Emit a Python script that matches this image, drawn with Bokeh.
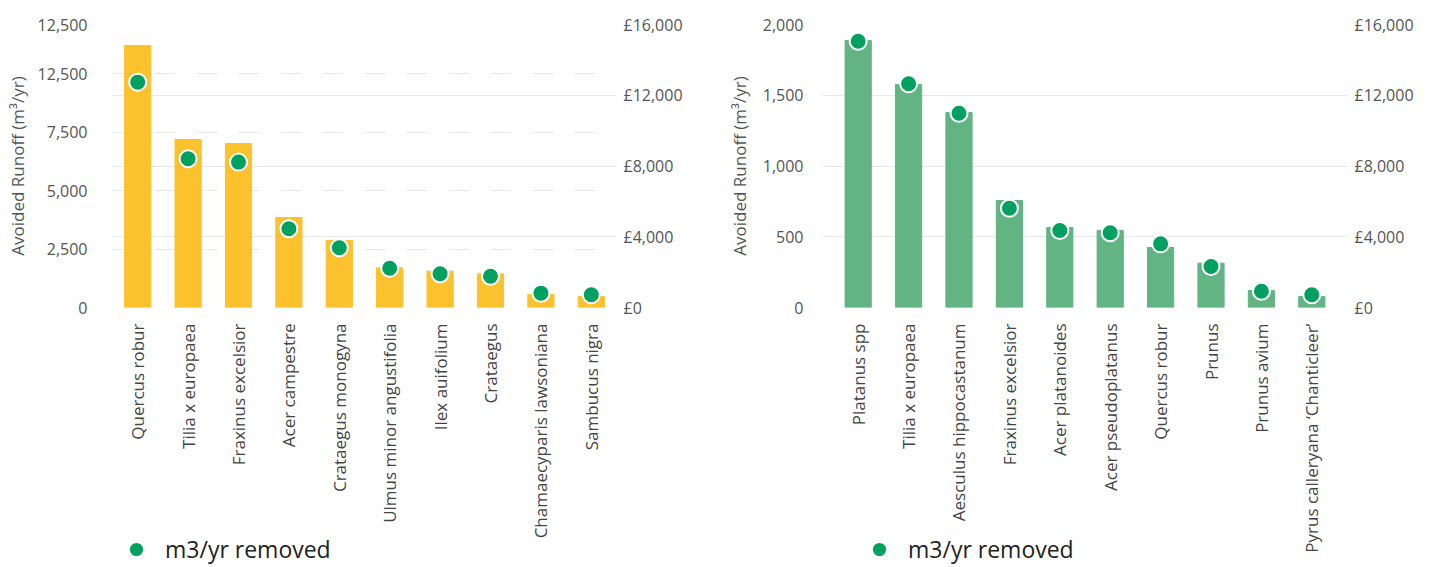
import math
from bokeh.plotting import figure
from bokeh.models import (ColumnDataSource, FactorRange, Range1d, LinearAxis, FixedTicker,
                          Grid, Legend, LegendItem)
from bokeh.layouts import row, column
from bokeh.embed import file_html
from bokeh.resources import INLINE

# ---------------- data ----------------
left_species = ["Quercus robur", "Tilia x europaea", "Fraxinus excelsior", "Acer campestre",
                "Crataegus monogyna", "Ulmus minor angustifolia", "Ilex auifolium", "Crataegus",
                "Chamaecyparis lawsoniana", "Sambucus nigra"]
left_runoff = [11210, 7190, 7020, 3850, 2870, 1700, 1555, 1440, 556, 470]
left_removed_gbp = [12740, 8410, 8220, 4450, 3375, 2220, 1905, 1770, 810, 720]
left_runoff_ticks = [0, 2500, 5000, 7500, 10000, 12115]
left_runoff_tick_labels = ["0", "2,500", "5,000", "7,500", "12,500", "12,500"]

right_species = ["Platanus spp", "Tilia x europaea", "Aesculus hippocastanum", "Fraxinus excelsior",
                 "Acer platanoides", "Acer pseudoplatanus", "Quercus robur", "Prunus",
                 "Prunus avium", "Pyrus calleryana \u2018Chanticleer\u2019"]
right_runoff = [1887, 1576, 1378, 756, 565, 544, 424, 313, 120, 78]
right_removed_gbp = [15057, 12648, 10986, 5615, 4354, 4223, 3600, 2318, 922, 718]
right_runoff_ticks = [0, 500, 1000, 1500, 2000]
right_runoff_tick_labels = ["0", "500", "1,000", "1,500", "2,000"]

gbp_ticks = [0, 4000, 8000, 12000, 16000]
gbp_tick_labels = ["\u00a30", "\u00a34,000", "\u00a38,000", "\u00a312,000", "\u00a316,000"]

y_title = "Avoided Runoff (m\u00b3/yr)"
legend_text = "m3/yr removed"

FONT = "Open Sans"
GRID = "#e8e8e8"
DOT = "#00A160"


def make_chart(species, runoff, gbp, ticks, tick_labels, bar_color, dashed_left_grid,
               fig_width, border_left, border_right, pad, label_standoff, title_standoff):
    src = ColumnDataSource(dict(cat=species, runoff=runoff, gbp=gbp))
    p = figure(width=fig_width, height=565, output_backend="svg", toolbar_location=None,
               x_range=FactorRange(factors=species, range_padding=pad,
                                   range_padding_units="absolute"),
               y_range=Range1d(0, ticks[-1]),
               min_border_left=border_left, min_border_right=border_right,
               min_border_top=24, min_border_bottom=258)
    p.outline_line_color = None
    p.background_fill_color = "white"
    p.border_fill_color = "white"
    p.extra_y_ranges = {"gbp": Range1d(0, gbp_ticks[-1])}

    # grids
    p.xgrid.visible = False
    if dashed_left_grid:
        p.ygrid.ticker = FixedTicker(ticks=ticks[:-1])
        p.ygrid.grid_line_dash = "21 21"
        p.ygrid.grid_line_color = GRID
        g2 = Grid(dimension=1, ticker=FixedTicker(ticks=gbp_ticks), y_range_name="gbp",
                  grid_line_color=GRID)
        p.add_layout(g2)
    else:
        p.ygrid.ticker = FixedTicker(ticks=ticks)
        p.ygrid.grid_line_color = GRID

    p.vbar(x="cat", top="runoff", width=0.52, source=src, color=bar_color)
    p.scatter(x="cat", y="gbp", source=src, y_range_name="gbp", size=17,
              fill_color=DOT, line_color="white", line_width=2)

    # left axis
    ya = p.yaxis[0]
    ya.ticker = FixedTicker(ticks=ticks)
    ya.major_label_overrides = dict(zip(ticks, tick_labels))
    ya.axis_label = y_title
    ya.axis_label_text_font = FONT
    ya.axis_label_text_font_size = "17px"
    ya.axis_label_text_font_style = "normal"
    ya.axis_label_text_color = "#555555"
    ya.axis_label_standoff = title_standoff
    ya.major_label_standoff = label_standoff

    # right axis
    ra = LinearAxis(y_range_name="gbp", ticker=FixedTicker(ticks=gbp_ticks),
                    major_label_overrides=dict(zip(gbp_ticks, gbp_tick_labels)))
    ra.major_label_standoff = 1
    p.add_layout(ra, "right")

    for ax in [ya, ra]:
        ax.axis_line_color = None
        ax.major_tick_line_color = None
        ax.minor_tick_line_color = None
        ax.major_label_text_font = FONT
        ax.major_label_text_font_size = "16px"
        ax.major_label_text_color = "#555555"

    xa = p.xaxis[0]
    xa.axis_line_color = None
    xa.major_tick_line_color = None
    xa.minor_tick_line_color = None
    xa.major_label_orientation = math.pi / 2
    xa.major_label_standoff = 10
    xa.major_label_text_font = FONT
    xa.major_label_text_font_size = "17px"
    xa.major_label_text_color = "#444444"
    return p


def make_legend(fig_width, legend_x):
    lf = figure(width=fig_width, height=40, output_backend="svg", toolbar_location=None,
                x_range=Range1d(0, 1), y_range=Range1d(0, 1),
                x_axis_location=None, y_axis_location=None, min_border=0)
    lf.outline_line_color = None
    lf.background_fill_alpha = 0
    lf.border_fill_alpha = 0
    lf.grid.visible = False
    # one point kept outside the visible range: only its legend glyph is shown
    r = lf.scatter(x=[5], y=[5], size=17, fill_color=DOT, line_color="white", line_width=2)
    leg = Legend(items=[LegendItem(label=legend_text, renderers=[r])],
                 location=(legend_x, -3), orientation="horizontal",
                 padding=0, margin=0, spacing=0, glyph_width=38, glyph_height=38,
                 label_standoff=10, label_text_font=FONT, label_text_font_size="23px",
                 label_text_color="#222222", background_fill_alpha=0,
                 border_line_color=None)
    lf.add_layout(leg, "center")
    return lf


p1 = make_chart(left_species, left_runoff, left_removed_gbp, left_runoff_ticks,
                left_runoff_tick_labels, "#FBC22D", True,
                715, 112, 99, 0.0, 19, 6)
p2 = make_chart(right_species, right_runoff, right_removed_gbp, right_runoff_ticks,
                right_runoff_tick_labels, "#62B583", False,
                713, 107, 81, 0.208, 13, 9)
l1 = make_legend(715, 117)
l2 = make_legend(713, 145)

layout = column(row(p1, p2), row(l1, l2, margin=(-40, 0, 0, 0)))
open("out.html", "w").write(file_html(layout, INLINE))
